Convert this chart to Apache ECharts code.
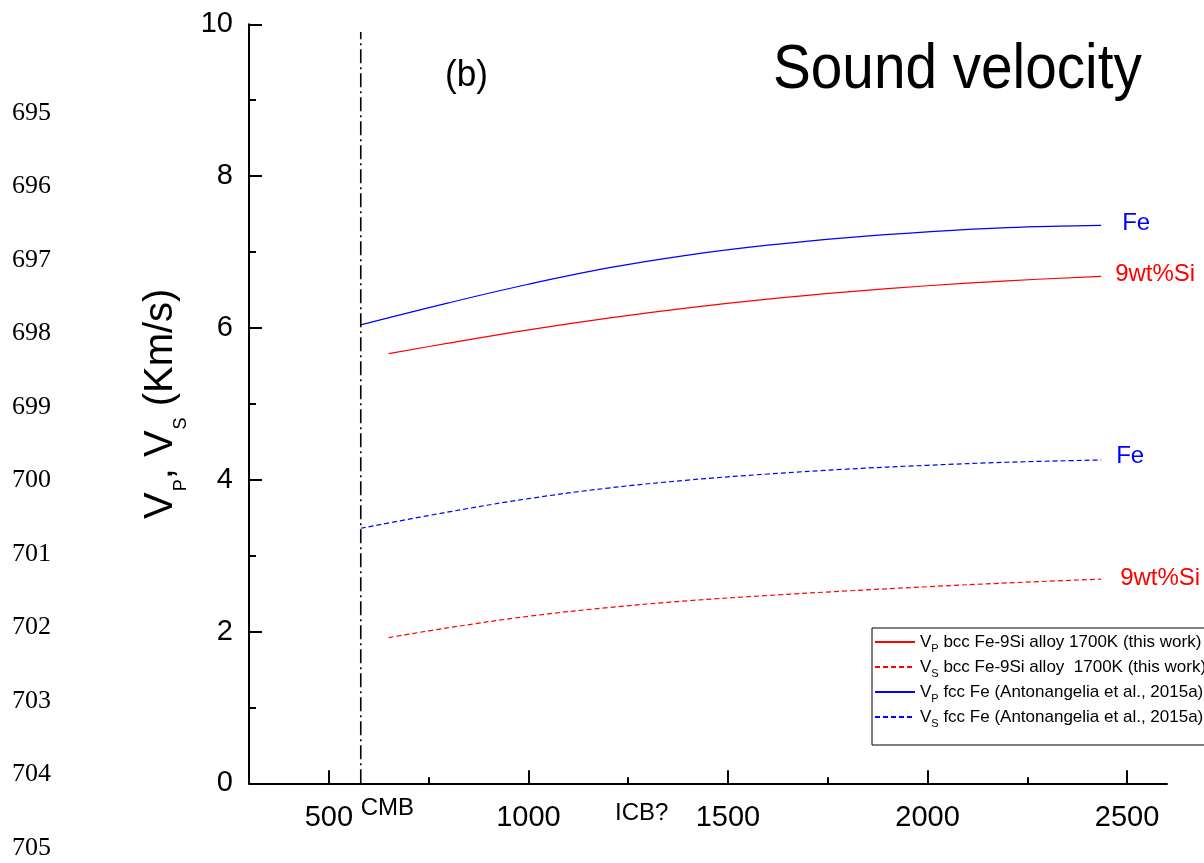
<!DOCTYPE html>
<html>
<head>
<meta charset="utf-8">
<script src="https://cdn.jsdelivr.net/npm/echarts@6/dist/echarts.min.js"></script>
<style>
  html, body { margin: 0; padding: 0; background: #fff; }
  #chart { width: 1204px; height: 863px; }
</style>
</head>
<body>
<div id="chart"></div>
<script>
// Depth positions of the sampled curve points
const feDepth = [580, 800, 1000, 1200, 1400, 1600, 1800, 2000, 2200, 2435];
const siDepth = [650, 800, 1000, 1200, 1400, 1600, 1800, 2000, 2200, 2435];

// Sound velocities (km/s)
const vpSi = [5.66, 5.80, 5.975, 6.13, 6.265, 6.38, 6.475, 6.555, 6.62, 6.68];
const vsSi = [1.92, 2.05, 2.20, 2.315, 2.405, 2.475, 2.535, 2.59, 2.64, 2.69];
const vpFe = [6.04, 6.33, 6.575, 6.79, 6.96, 7.09, 7.19, 7.265, 7.32, 7.35];
const vsFe = [3.36, 3.575, 3.75, 3.89, 3.995, 4.075, 4.14, 4.19, 4.23, 4.26];

// Boundary markers
const cmbDepth = 580;
const cmbTop = 9.9;
const icbDepth = 1217;

// Axis ticks
const xMajorTicks = [500, 1000, 1500, 2000, 2500];
const xMinorTicks = [750, 1250, 1750, 2250];

// Series names and end labels
const seriesNames = [
  'VP bcc Fe-9Si alloy 1700K (this work)',
  'VS bcc Fe-9Si alloy  1700K (this work)',
  'VP fcc Fe (Antonangelia et al., 2015a)',
  'VS fcc Fe (Antonangelia et al., 2015a)'
];
const endLabels = ['9wt%Si', '9wt%Si', 'Fe', 'Fe'];

// Manuscript line numbers in the margin
const lineNumbers = ['695', '696', '697', '698', '699', '700', '701', '702', '703', '704', '705'];

const SANS = '"Liberation Sans", Arial, Helvetica, sans-serif';
const SERIF = '"Liberation Serif", "Times New Roman", serif';
const RED = '#ff0000';
const BLUE = '#0000ff';

const pts = (xs, ys) => xs.map((x, i) => [x, ys[i]]);

function curve(name, xs, ys, color, dashed, label, dist, off) {
  return {
    name: name,
    type: 'line',
    xAxisIndex: 0,
    data: pts(xs, ys),
    smooth: 0.4,
    symbol: 'none',
    lineStyle: { color: color, width: 1.2, type: dashed ? [5, 3] : 'solid' },
    itemStyle: { color: color },
    endLabel: {
      show: true,
      formatter: label,
      color: color,
      fontSize: 24,
      fontFamily: SANS,
      distance: dist,
      offset: off
    },
    emphasis: { disabled: true }
  };
}

const chart = echarts.init(document.getElementById('chart'), null, { renderer: 'canvas' });

const legendRich = {
  m: { fontSize: 17, fontFamily: SANS, color: '#000', lineHeight: 20 },
  s: { fontSize: 11, fontFamily: SANS, color: '#000', lineHeight: 11, padding: [13, 0, 0, 0] }
};

chart.setOption({
  animation: false,
  backgroundColor: '#fff',
  grid: { left: 249, right: 37, top: 24.3, bottom: 79.7, containLabel: false },
  legend: {
    data: seriesNames,
    orient: 'vertical',
    left: 872,
    top: 628,
    padding: [2, 120, 16, 2],
    itemGap: 1,
    itemWidth: 40,
    itemHeight: 14,
    borderColor: '#000',
    borderWidth: 1,
    selectedMode: false,
    itemStyle: { opacity: 0 },
    formatter: function (n) {
      const sub = n.charAt(1);
      return '{m|V}{s|' + sub + '}{m|' + n.slice(2) + '}';
    },
    textStyle: { rich: legendRich }
  },
  xAxis: [
    {
      type: 'value',
      min: 300,
      max: 2600,
      position: 'bottom',
      axisLine: { show: true, onZero: false, lineStyle: { color: '#000', width: 2 } },
      axisTick: { show: true, inside: true, length: 13, customValues: xMajorTicks, lineStyle: { color: '#000', width: 2 } },
      axisLabel: {
        show: true,
        customValues: xMajorTicks,
        formatter: function (v) { return String(v); },
        color: '#000', fontSize: 29, fontFamily: SANS, margin: 20
      },
      splitLine: { show: false }
    },
    {
      type: 'value',
      min: 300,
      max: 2600,
      position: 'bottom',
      axisLine: { show: false },
      axisTick: { show: true, inside: true, length: 6, customValues: xMinorTicks, lineStyle: { color: '#000', width: 2 } },
      axisLabel: { show: false },
      splitLine: { show: false }
    }
  ],
  yAxis: {
    type: 'value',
    min: 0,
    max: 10,
    interval: 2,
    name: '{m|V}{s|P}{m|, V}{s|S}{m| (Km/s)}',
    nameLocation: 'middle',
    nameRotate: 90,
    nameGap: 50,
    nameTextStyle: {
      rich: {
        m: { fontSize: 40, fontFamily: SANS, color: '#000' },
        s: { fontSize: 18, fontFamily: SANS, color: '#000', padding: [40, 0, 0, 1] }
      }
    },
    axisLine: { show: true, onZero: false, lineStyle: { color: '#000', width: 2 } },
    axisTick: { show: true, inside: true, length: 13, lineStyle: { color: '#000', width: 2 } },
    minorTick: { show: true, splitNumber: 2, length: 7, lineStyle: { color: '#000', width: 2 } },
    axisLabel: { color: '#000', fontSize: 29, fontFamily: SANS, margin: 16 },
    splitLine: { show: false },
    minorSplitLine: { show: false }
  },
  series: [
    curve(seriesNames[0], siDepth, vpSi, RED, false, endLabels[0], 14, [0, -2]),
    curve(seriesNames[1], siDepth, vsSi, RED, true, endLabels[1], 19, [0, -1]),
    curve(seriesNames[2], feDepth, vpFe, BLUE, false, endLabels[2], 21, [0, -2]),
    curve(seriesNames[3], feDepth, vsFe, BLUE, true, endLabels[3], 15, [0, -4]),
    {
      name: 'CMB',
      type: 'line',
      data: [[cmbDepth, 0], [cmbDepth, cmbTop]],
      symbol: 'none',
      silent: true,
      lineStyle: { color: '#000', width: 1.6, type: [14, 4, 2, 4] },
      emphasis: { disabled: true }
    }
  ]
});

// Annotations: panel tag, title, boundary names and margin line numbers
const cmbPix = chart.convertToPixel({ xAxisIndex: 0, yAxisIndex: 0 }, [cmbDepth, 0]);
const icbPix = chart.convertToPixel({ xAxisIndex: 0, yAxisIndex: 0 }, [icbDepth, 0]);

function txt(x, y, text, font, color, scaleX) {
  return {
    type: 'text',
    x: x,
    y: y,
    scaleX: scaleX || 1,
    silent: true,
    style: {
      text: text,
      font: font,
      fill: color || '#000',
      align: 'left',
      textAlign: 'left',
      verticalAlign: 'middle',
      textVerticalAlign: 'middle'
    }
  };
}

const graphics = [
  txt(773, 71, 'Sound velocity', '63px ' + SANS, '#000', 0.9),
  txt(445, 76, '(b)', '37px ' + SANS, '#000', 0.95),
  txt(cmbPix[0], cmbPix[1] + 25, 'CMB', '24px ' + SANS),
  txt(icbPix[0], icbPix[1] + 30, 'ICB?', '24px ' + SANS)
];
lineNumbers.forEach(function (n, i) {
  graphics.push(txt(12, 113 + i * 73.5, n, '26px ' + SERIF));
});
chart.setOption({ graphic: graphics });
</script>
</body>
</html>
